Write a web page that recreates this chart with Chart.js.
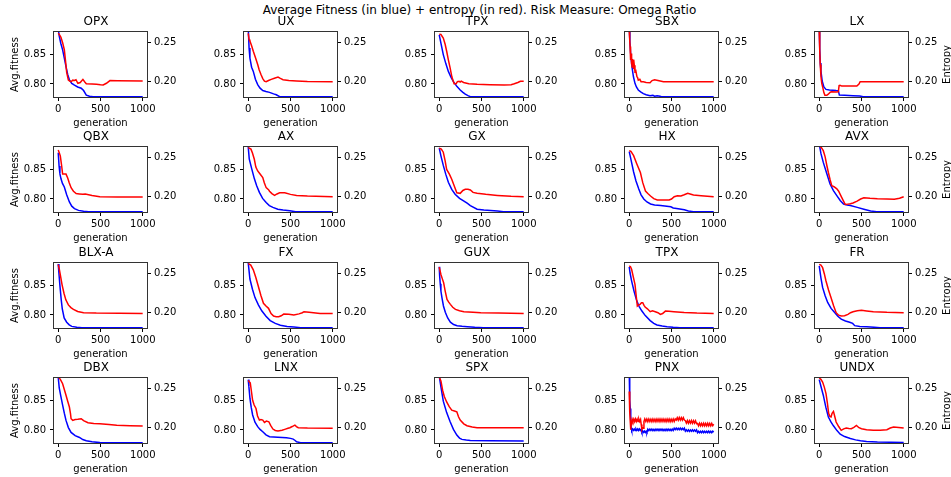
<!DOCTYPE html>
<html>
<head>
<meta charset="utf-8">
<script src="https://cdn.jsdelivr.net/npm/chart.js@4.4.0/dist/chart.umd.min.js"></script>
<style>
  body { margin: 0; background: #fff; width: 951px; height: 477px; position: relative; overflow: hidden; font-family: 'DejaVu Sans', sans-serif; }
  #suptitle { position: absolute; left: 4px; width: 951px; top: 3px; text-align: center; font-size: 12px; line-height: 14px; color: #000; }
  canvas { position: absolute; }
</style>
</head>
<body>
<div id="suptitle">Average Fitness (in blue) + entropy (in red). Risk Measure: Omega Ratio</div>
<script>
// [generation, value] pairs
const opxFit = [[0,0.892],[12,0.88],[30,0.868],[52,0.857],[72,0.843],[92,0.829],[112,0.816],[132,0.807],[160,0.801],[192,0.798],[230,0.795],[272,0.793],[300,0.789],[332,0.7815],[370,0.7795],[412,0.7788],[999,0.7788]];
const opxEnt = [[0,0.262],[16,0.26],[32,0.257],[52,0.25],[72,0.241],[85,0.228],[100,0.212],[120,0.202],[140,0.2005],[152,0.2],[172,0.202],[192,0.2015],[210,0.2025],[232,0.198],[260,0.199],[292,0.203],[312,0.2],[332,0.1975],[400,0.197],[452,0.1966],[500,0.196],[532,0.1958],[570,0.198],[612,0.2015],[700,0.2012],[999,0.2008]];

const uxFit = [[0,0.895],[10,0.86],[20,0.843],[40,0.828],[60,0.821],[85,0.808],[112,0.799],[140,0.793],[172,0.789],[210,0.7875],[252,0.786],[300,0.7835],[332,0.782],[372,0.7788],[999,0.7788]];
const uxEnt = [[0,0.262],[10,0.254],[20,0.252],[40,0.246],[60,0.239],[85,0.231],[112,0.222],[130,0.215],[152,0.209],[172,0.204],[192,0.2008],[212,0.2],[240,0.2015],[272,0.203],[310,0.2045],[352,0.206],[380,0.2042],[412,0.2026],[480,0.2015],[572,0.2009],[700,0.2003],[999,0.2]];

const tpxFit = [[0,0.882],[20,0.868],[48,0.849],[78,0.834],[108,0.821],[140,0.811],[168,0.804],[208,0.796],[248,0.79],[280,0.786],[308,0.783],[340,0.7805],[368,0.7788],[999,0.7788]];
const tpxEnt = [[0,0.261],[20,0.2605],[48,0.256],[70,0.248],[88,0.239],[108,0.228],[128,0.218],[150,0.206],[176,0.1975],[200,0.1975],[215,0.2],[235,0.2005],[248,0.1995],[260,0.2008],[288,0.199],[350,0.1975],[448,0.1966],[600,0.196],[768,0.1957],[850,0.1962],[888,0.1974],[930,0.199],[960,0.2005],[999,0.2005]];

const sbxFit = [[0,0.895],[8,0.87],[16,0.852],[24,0.84],[36,0.825],[50,0.812],[68,0.801],[85,0.795],[107,0.79],[135,0.787],[167,0.784],[200,0.782],[246,0.7805],[280,0.781],[300,0.7795],[330,0.7805],[365,0.7795],[380,0.7788],[999,0.7788]];
const sbxEnt = [[0,0.266],[5,0.255],[10,0.245],[14,0.232],[18,0.228],[22,0.236],[26,0.222],[30,0.232],[34,0.219],[38,0.229],[42,0.22],[48,0.228],[54,0.216],[60,0.221],[68,0.213],[78,0.214],[90,0.207],[100,0.205],[107,0.202],[125,0.203],[140,0.2],[167,0.2],[200,0.199],[246,0.1987],[270,0.2015],[300,0.2025],[340,0.2015],[405,0.2],[999,0.2]];

const lxFit = [[0,0.895],[6,0.86],[12,0.835],[20,0.822],[35,0.805],[55,0.795],[80,0.791],[120,0.7899],[200,0.789],[226,0.7888],[238,0.7815],[300,0.7812],[400,0.7805],[480,0.7798],[520,0.7788],[999,0.7788]];
const lxEnt = [[0,0.264],[6,0.24],[12,0.222],[20,0.207],[30,0.198],[40,0.1936],[55,0.186],[67,0.1826],[90,0.1826],[107,0.184],[130,0.1865],[147,0.187],[200,0.1868],[226,0.187],[235,0.195],[246,0.1955],[266,0.1944],[350,0.1944],[445,0.1944],[470,0.197],[484,0.2],[999,0.2]];

const qbxFit = [[0,0.877],[10,0.855],[20,0.842],[32,0.834],[50,0.826],[72,0.82],[100,0.807],[132,0.795],[160,0.788],[192,0.784],[240,0.781],[300,0.7795],[360,0.7788],[999,0.7788]];
const qbxEnt = [[0,0.26],[12,0.2565],[25,0.252],[40,0.24],[52,0.229],[70,0.229],[92,0.229],[112,0.224],[130,0.218],[152,0.2115],[180,0.207],[212,0.204],[250,0.2035],[292,0.203],[320,0.2035],[400,0.2015],[492,0.2],[700,0.1996],[999,0.1996]];

const axFit = [[0,0.887],[12,0.867],[40,0.851],[72,0.834],[100,0.822],[132,0.811],[170,0.801],[212,0.794],[250,0.789],[292,0.786],[350,0.783],[412,0.7815],[492,0.7803],[560,0.7788],[999,0.7788]];
const axEnt = [[0,0.263],[32,0.261],[50,0.256],[72,0.248],[90,0.238],[112,0.233],[140,0.229],[172,0.2246],[190,0.218],[212,0.2116],[240,0.209],[252,0.207],[280,0.204],[312,0.2017],[340,0.2035],[372,0.205],[432,0.205],[500,0.203],[572,0.2017],[700,0.2008],[999,0.2]];

const gxFit = [[0,0.885],[20,0.872],[48,0.856],[78,0.841],[108,0.828],[148,0.816],[188,0.808],[240,0.801],[288,0.797],[330,0.793],[368,0.789],[448,0.783],[528,0.7815],[688,0.78],[760,0.7788],[999,0.7788]];
const gxEnt = [[0,0.262],[25,0.261],[48,0.257],[70,0.246],[88,0.235],[120,0.229],[148,0.2224],[180,0.213],[208,0.205],[248,0.2043],[280,0.208],[308,0.2095],[340,0.2095],[368,0.2086],[400,0.2055],[448,0.2043],[550,0.203],[688,0.2017],[850,0.2005],[999,0.2]];

const hxFit = [[0,0.879],[20,0.866],[52,0.845],[80,0.83],[112,0.817],[140,0.807],[172,0.8],[210,0.795],[252,0.7916],[300,0.79],[372,0.789],[492,0.787],[520,0.785],[560,0.7843],[652,0.782],[700,0.78],[760,0.7788],[999,0.7788]];
const hxEnt = [[0,0.259],[20,0.258],[52,0.2526],[90,0.242],[132,0.231],[160,0.218],[192,0.2073],[220,0.204],[252,0.2009],[290,0.1975],[332,0.1957],[400,0.1957],[472,0.1957],[500,0.197],[532,0.2],[570,0.2013],[612,0.201],[650,0.2025],[692,0.2043],[720,0.2035],[760,0.2022],[850,0.2013],[999,0.2]];

const avxFit = [[0,0.892],[20,0.876],[48,0.861],[90,0.842],[128,0.825],[168,0.814],[208,0.8056],[250,0.797],[288,0.7916],[330,0.79],[368,0.789],[450,0.786],[528,0.783],[608,0.78],[680,0.7788],[999,0.7788]];
const avxEnt = [[0,0.265],[25,0.263],[48,0.259],[70,0.251],[90,0.24],[108,0.231],[128,0.222],[148,0.214],[175,0.2128],[208,0.21],[230,0.207],[248,0.203],[280,0.196],[308,0.19],[340,0.1905],[368,0.191],[400,0.192],[448,0.1944],[490,0.197],[528,0.1987],[600,0.198],[688,0.1974],[800,0.197],[888,0.1966],[950,0.198],[999,0.2]];

const blxFit = [[0,0.885],[8,0.87],[20,0.849],[35,0.826],[48,0.81],[70,0.795],[100,0.788],[130,0.7835],[160,0.781],[220,0.7795],[280,0.7788],[999,0.7788]];
const blxEnt = [[0,0.2616],[12,0.256],[28,0.2466],[45,0.236],[68,0.225],[90,0.2165],[120,0.21],[150,0.2065],[180,0.2043],[230,0.2015],[300,0.2],[450,0.1995],[999,0.1991]];

const fxFit = [[0,0.887],[20,0.86],[50,0.843],[80,0.829],[120,0.817],[160,0.807],[210,0.798],[260,0.7906],[320,0.786],[380,0.783],[460,0.781],[540,0.78],[620,0.7788],[999,0.7788]];
const fxEnt = [[0,0.263],[30,0.261],[60,0.255],[90,0.245],[120,0.2336],[150,0.222],[180,0.212],[210,0.2085],[240,0.2056],[270,0.199],[300,0.1957],[330,0.1948],[360,0.1948],[390,0.196],[420,0.1983],[480,0.198],[540,0.197],[600,0.1985],[640,0.2],[660,0.2013],[720,0.2005],[850,0.199],[999,0.199]];

const guxFit = [[0,0.8805],[5,0.865],[12,0.852],[20,0.84],[32,0.829],[50,0.815],[72,0.8045],[100,0.795],[132,0.788],[170,0.784],[212,0.7822],[270,0.7812],[332,0.7805],[420,0.7795],[520,0.7788],[999,0.7788]];
const guxEnt = [[0,0.2585],[20,0.249],[35,0.244],[52,0.2385],[70,0.228],[92,0.217],[112,0.2135],[132,0.2107],[160,0.207],[192,0.2043],[240,0.2025],[292,0.2013],[400,0.2005],[492,0.2],[700,0.1995],[999,0.199]];

const tpx2Fit = [[0,0.88],[10,0.87],[28,0.857],[58,0.839],[88,0.824],[118,0.814],[148,0.807],[190,0.799],[248,0.7906],[290,0.786],[328,0.7833],[390,0.7815],[448,0.7805],[520,0.7795],[600,0.7788],[999,0.7788]];
const tpx2Ent = [[0,0.26],[15,0.259],[28,0.2556],[48,0.246],[68,0.2363],[82,0.222],[96,0.2085],[112,0.21],[128,0.2107],[145,0.2128],[160,0.2128],[175,0.2095],[188,0.2073],[215,0.205],[248,0.2013],[275,0.2025],[308,0.2013],[340,0.2],[368,0.1979],[395,0.199],[428,0.2021],[470,0.2018],[528,0.2013],[650,0.2003],[800,0.1995],[999,0.199]];

const frFit = [[0,0.882],[20,0.862],[40,0.846],[70,0.832],[100,0.821],[140,0.811],[180,0.8045],[220,0.798],[260,0.793],[310,0.79],[360,0.788],[395,0.786],[420,0.7822],[480,0.781],[560,0.7805],[650,0.7795],[720,0.7788],[999,0.7788]];
const frEnt = [[0,0.262],[20,0.261],[40,0.2577],[60,0.25],[80,0.2406],[110,0.229],[140,0.2192],[170,0.209],[200,0.2],[230,0.1968],[260,0.1957],[300,0.1962],[340,0.1979],[370,0.2],[400,0.2013],[450,0.2025],[500,0.203],[560,0.2022],[640,0.2013],[800,0.2005],[999,0.2]];

const dbxFit = [[0,0.888],[12,0.87],[30,0.857],[52,0.8415],[72,0.828],[92,0.816],[120,0.804],[152,0.796],[200,0.7905],[252,0.7875],[290,0.784],[332,0.782],[400,0.7803],[492,0.779],[600,0.7788],[999,0.7788]];
const dbxEnt = [[0,0.265],[25,0.262],[52,0.2564],[72,0.249],[92,0.2415],[112,0.234],[132,0.2265],[145,0.218],[152,0.2115],[172,0.2094],[200,0.2105],[232,0.2107],[272,0.2115],[300,0.209],[352,0.2064],[420,0.2055],[492,0.2051],[600,0.204],[692,0.203],[850,0.2025],[999,0.2021]];

const lnxFit = [[0,0.884],[8,0.872],[20,0.853],[35,0.838],[52,0.825],[80,0.813],[112,0.8056],[140,0.801],[172,0.797],[210,0.792],[252,0.7888],[350,0.788],[452,0.787],[500,0.786],[532,0.7848],[555,0.7825],[572,0.7803],[620,0.7788],[999,0.7788]];
const lnxEnt = [[0,0.2606],[12,0.259],[24,0.2576],[36,0.248],[52,0.2352],[70,0.229],[92,0.2246],[110,0.215],[132,0.2097],[150,0.2105],[172,0.2097],[192,0.2068],[215,0.2085],[244,0.2076],[265,0.203],[292,0.1983],[320,0.1965],[352,0.1958],[400,0.1968],[432,0.1979],[470,0.1992],[492,0.2],[520,0.2015],[552,0.2034],[570,0.2015],[592,0.2],[700,0.1995],[999,0.1992]];

const spxFit = [[0,0.89],[20,0.872],[48,0.848],[88,0.829],[128,0.814],[168,0.801],[208,0.7916],[240,0.7865],[268,0.7843],[320,0.7832],[368,0.7826],[600,0.782],[999,0.7815]];
const spxEnt = [[0,0.265],[20,0.26],[40,0.248],[60,0.24],[88,0.233],[118,0.227],[148,0.2225],[180,0.2215],[208,0.2203],[228,0.214],[248,0.2097],[290,0.205],[328,0.2025],[390,0.201],[448,0.2],[600,0.2],[999,0.2]];

const pnxFit = [[0,0.895],[6,0.85],[12,0.836],[18,0.815],[24,0.803],[30,0.7993],[40,0.8017],[50,0.7995],[60,0.8015],[70,0.7993],[80,0.8018],[90,0.7994],[100,0.8016],[110,0.7992],[120,0.8017],[130,0.7994],[140,0.8012],[150,0.7962],[160,0.7982],[170,0.796],[180,0.7982],[190,0.7958],[200,0.798],[210,0.7962],[220,0.8014],[232,0.799],[244,0.8014],[256,0.7991],[268,0.8015],[280,0.799],[292,0.8013],[304,0.7989],[316,0.8015],[328,0.7991],[340,0.8014],[352,0.799],[364,0.8014],[376,0.7991],[388,0.8015],[400,0.7989],[412,0.8013],[424,0.799],[436,0.8015],[448,0.799],[460,0.8014],[472,0.7991],[484,0.8013],[496,0.799],[508,0.8015],[520,0.7991],[532,0.803],[544,0.8006],[556,0.803],[568,0.8005],[580,0.8029],[592,0.8006],[604,0.8031],[616,0.8006],[628,0.8029],[640,0.8006],[652,0.803],[664,0.7979],[676,0.8002],[688,0.7978],[700,0.8002],[712,0.7977],[724,0.8001],[736,0.7979],[748,0.8003],[760,0.7978],[772,0.8001],[784,0.7978],[796,0.8002],[808,0.7956],[820,0.7979],[832,0.7955],[844,0.7979],[856,0.7956],[868,0.798],[880,0.7954],[892,0.7979],[904,0.7956],[916,0.7978],[928,0.7955],[940,0.798],[952,0.7956],[964,0.7978],[976,0.7955],[988,0.7979],[999,0.7965]];
const pnxEnt = [[0,0.2465],[4,0.232],[8,0.22],[12,0.208],[16,0.2],[20,0.1975],[26,0.207],[34,0.211],[44,0.2079],[54,0.2111],[64,0.2078],[74,0.2112],[84,0.208],[94,0.211],[104,0.2079],[114,0.2111],[124,0.208],[134,0.2105],[142,0.204],[150,0.1978],[158,0.2],[166,0.1992],[174,0.2078],[184,0.2111],[196,0.2079],[208,0.2112],[220,0.2078],[232,0.2111],[244,0.208],[256,0.211],[268,0.2078],[280,0.2112],[292,0.2079],[304,0.211],[316,0.2078],[328,0.2111],[340,0.2079],[352,0.2112],[364,0.2078],[376,0.2111],[388,0.208],[400,0.2112],[412,0.2079],[424,0.211],[436,0.2078],[448,0.2111],[460,0.2079],[472,0.2112],[484,0.2078],[496,0.211],[508,0.208],[520,0.2111],[532,0.2079],[544,0.2112],[556,0.2098],[568,0.2129],[580,0.2097],[592,0.213],[604,0.2098],[616,0.2128],[628,0.2097],[640,0.2129],[652,0.2098],[664,0.209],[676,0.2059],[688,0.2091],[700,0.2058],[712,0.209],[724,0.2059],[736,0.2091],[748,0.2058],[760,0.209],[772,0.2059],[784,0.2088],[796,0.2052],[808,0.2055],[820,0.2024],[832,0.2056],[844,0.2024],[856,0.2055],[868,0.2025],[880,0.2056],[892,0.2024],[904,0.2055],[916,0.2025],[928,0.2056],[940,0.2024],[952,0.2055],[964,0.2025],[976,0.2056],[988,0.2026],[999,0.2045]];

const undxFit = [[0,0.884],[20,0.873],[48,0.858],[78,0.838],[108,0.8216],[140,0.813],[168,0.807],[210,0.799],[248,0.793],[300,0.789],[368,0.7858],[430,0.7835],[488,0.782],[560,0.781],[688,0.7801],[850,0.7795],[999,0.779]];
const undxEnt = [[0,0.2637],[20,0.262],[40,0.2585],[60,0.252],[80,0.2436],[96,0.232],[112,0.218],[126,0.2145],[140,0.2137],[152,0.2185],[168,0.2209],[180,0.216],[200,0.2073],[230,0.2015],[260,0.1966],[290,0.1985],[320,0.1996],[350,0.199],[380,0.1987],[410,0.2005],[440,0.203],[470,0.2],[500,0.1987],[560,0.1975],[640,0.1968],[720,0.1966],[800,0.1975],[840,0.1996],[880,0.2009],[940,0.2003],[999,0.1996]];

const panelTitles = ['OPX','UX','TPX','SBX','LX','QBX','AX','GX','HX','AVX','BLX-A','FX','GUX','TPX','FR','DBX','LNX','SPX','PNX','UNDX'];
const fitnessSeries = [opxFit,uxFit,tpxFit,sbxFit,lxFit,qbxFit,axFit,gxFit,hxFit,avxFit,blxFit,fxFit,guxFit,tpx2Fit,frFit,dbxFit,lnxFit,spxFit,pnxFit,undxFit];
const entropySeries = [opxEnt,uxEnt,tpxEnt,sbxEnt,lxEnt,qbxEnt,axEnt,gxEnt,hxEnt,avxEnt,blxEnt,fxEnt,guxEnt,tpx2Ent,frEnt,dbxEnt,lnxEnt,spxEnt,pnxEnt,undxEnt];
const genTicks = [0, 500, 1000];
const fitTicks = [0.80, 0.85];
const entTicks = [0.20, 0.25];

// layout of the 4x5 grid (plot area corners)
const colLeft = [54, 244, 435, 625, 815];
const rowTop = [32, 147, 263, 378];
const LEFT_W = 54, PLOT_W = 93, RIGHT_W = 45;
const TITLE_H = 18, PLOT_H = 65, BOTTOM_H = 35;

Chart.defaults.font.family = "'DejaVu Sans', sans-serif";
Chart.defaults.font.size = 10;
Chart.defaults.color = '#000';

// matplotlib-like box around the plot area
const framePlugin = {
  id: 'frame',
  afterDraw(chart) {
    const { ctx, chartArea: a } = chart;
    ctx.save();
    ctx.strokeStyle = '#333';
    ctx.lineWidth = 1;
    ctx.strokeRect(a.left - 0.5, a.top - 0.5, a.width + 1, a.height + 1);
    ctx.restore();
  }
};

// right axis label reads bottom-to-top like the left one
const rightLabelPlugin = {
  id: 'rightLabel',
  afterDraw(chart, args, opts) {
    if (!opts.text) return;
    const { ctx, chartArea: a } = chart;
    const s = chart.scales.y1;
    ctx.save();
    ctx.translate(s.right - 6, (a.top + a.bottom) / 2);
    ctx.rotate(-Math.PI / 2);
    ctx.font = "10px 'DejaVu Sans', sans-serif";
    ctx.fillStyle = '#000';
    ctx.textAlign = 'center';
    ctx.textBaseline = 'middle';
    ctx.fillText(opts.text, 0, 0);
    ctx.restore();
  }
};

const gridOpts = { drawOnChartArea: false, drawTicks: true, tickLength: 4, color: '#000', lineWidth: 1 };

panelTitles.forEach((title, i) => {
  const r = Math.floor(i / 5), c = i % 5;
  const canvas = document.createElement('canvas');
  canvas.width = LEFT_W + PLOT_W + RIGHT_W;
  canvas.height = TITLE_H + PLOT_H + BOTTOM_H;
  canvas.style.left = (colLeft[c] - LEFT_W) + 'px';
  canvas.style.top = (rowTop[r] - TITLE_H) + 'px';
  document.body.appendChild(canvas);

  new Chart(canvas.getContext('2d'), {
    type: 'line',
    data: {
      datasets: [
        {
          data: entropySeries[i].map(([x, y]) => ({ x, y })),
          yAxisID: 'y1', borderColor: '#ff0000', borderWidth: 1.5,
          pointRadius: 0, tension: 0, fill: false
        },
        {
          data: fitnessSeries[i].map(([x, y]) => ({ x, y })),
          yAxisID: 'y', borderColor: '#0000ff', borderWidth: 1.5,
          pointRadius: 0, tension: 0, fill: false
        }
      ]
    },
    options: {
      responsive: false,
      animation: false,
      devicePixelRatio: 1,
      layout: { padding: 0 },
      plugins: {
        legend: { display: false },
        tooltip: { enabled: false },
        title: {
          display: true, text: title, color: '#000',
          font: { size: 12, lineHeight: 1.25, weight: 'normal' },
          padding: { top: 0, bottom: 3 }
        },
        rightLabel: { text: c === 4 ? 'Entropy' : '' }
      },
      scales: {
        x: {
          type: 'linear', min: -50, max: 1050,
          afterBuildTicks: s => { s.ticks = genTicks.map(v => ({ value: v })); },
          afterFit: s => { s.height = BOTTOM_H; },
          ticks: { padding: 2, maxRotation: 0, callback: v => String(v) },
          grid: gridOpts,
          border: { display: false },
          title: { display: true, text: 'generation', padding: { top: 0, bottom: 3 } }
        },
        y: {
          position: 'left', min: 0.7783, max: 0.8867,
          afterBuildTicks: s => { s.ticks = fitTicks.map(v => ({ value: v })); },
          afterFit: s => { s.width = LEFT_W; },
          ticks: { padding: 4, callback: v => v.toFixed(2) },
          grid: gridOpts,
          border: { display: false },
          title: { display: c === 0, text: 'Avg.fitness', padding: { top: 9, bottom: 0 } }
        },
        y1: {
          position: 'right', min: 0.1804, max: 0.2637,
          afterBuildTicks: s => { s.ticks = entTicks.map(v => ({ value: v })); },
          afterFit: s => { s.width = RIGHT_W; },
          ticks: { padding: 3, callback: v => v.toFixed(2) },
          grid: gridOpts,
          border: { display: false }
        }
      }
    },
    plugins: [framePlugin, rightLabelPlugin]
  });
});
</script>
</body>
</html>
